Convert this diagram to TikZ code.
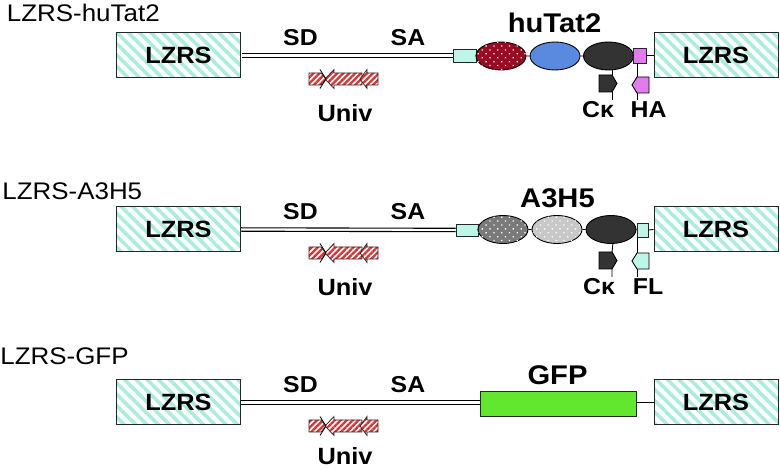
\documentclass[tikz,border=0pt]{standalone}
\usepackage{fontspec}
\usepackage{graphicx}
\setmainfont{Liberation Sans}
\usetikzlibrary{patterns.meta,shapes.geometric}
\definecolor{lz}{HTML}{A8EEDA}
\definecolor{mint}{HTML}{BDF5E6}
\definecolor{dred}{HTML}{9A0A22}
\definecolor{cblue}{HTML}{5A8AE0}
\definecolor{dk}{HTML}{333333}
\definecolor{mag}{HTML}{E27CEE}
\definecolor{gfp}{HTML}{62E62E}
\definecolor{ured}{HTML}{D83434}
\definecolor{gone}{HTML}{7A7A7A}
\definecolor{gtwo}{HTML}{C8C8C8}
\newcommand\sx[1]{\scalebox{1.08}[1]{#1}}
\newcommand\commonrow[1]{%
  \node[lzrs] (L) at (178.5,55.5) {\sx{LZRS}};
  \node[lzrs] (R) at (716,55.5) {\sx{LZRS}};
  \node[small] (sd) at (300.5,45.5) {\sx{SD}};
  \node[small] (sa) at (408,45.5) {\sx{SA}};
  \draw[ustripe] (309,73) -- (321,73) -- (326,79) -- (321,85) -- (309,85) -- cycle;
  \draw[ustripe] (325,79) -- (334,69.5) -- (334,73) -- (362,73) -- (362,85) -- (334,85) -- (334,88.5) -- cycle;
  \draw[ustripe] (360,79) -- (367,69.5) -- (367,73) -- (378,73) -- (378,85) -- (367,85) -- (367,88.5) -- cycle;
  \draw[line width=0.8pt] (320,69.5) -- (326,79) -- (320,88.5);
  \node[univ] (uv) at (345,#1) {\sx{Univ}};
}
\begin{document}
\begin{tikzpicture}[x=1pt,y=-1pt,line width=0.9pt,
  lzrs/.style={draw=black!85,line width=1pt,
    pattern={Lines[angle=-45,distance=8pt,line width=3.5pt]},pattern color=lz,
    minimum width=124pt,minimum height=45pt,inner sep=0pt,
    font=\fontsize{23.5}{28}\selectfont\bfseries},
  small/.style={anchor=base,inner sep=0pt,font=\fontsize{23}{27}\selectfont\bfseries},
  univ/.style={anchor=base,inner sep=0pt,font=\fontsize{23.5}{27}\selectfont\bfseries},
  big/.style={anchor=base,inner sep=0pt,font=\fontsize{27}{32}\selectfont\bfseries},
  title/.style={anchor=base west,inner sep=0pt,font=\fontsize{24}{28}\selectfont},
  railup/.style={draw=black,line width=1.1pt,transform canvas={yshift=1.7pt}},
  raildn/.style={draw=black,line width=1.1pt,transform canvas={yshift=-1.7pt}},
  ustripe/.style={draw=black!85,line width=0.7pt,preaction={fill=white},
    pattern={Lines[angle=45,distance=4.2pt,line width=2.3pt]},pattern color=ured},
  cbox/.style={draw=black!85,line width=0.9pt,fill=#1,inner sep=0pt},
  ell/.style={ellipse,draw=black,line width=0.9pt,fill=#1,minimum width=50pt,minimum height=28pt,inner sep=0pt},
  dots/.style={postaction={pattern={Dots[radius=0.9pt,distance=5.5pt,angle=45]},pattern color=white}}
]
\useasboundingbox[fill=white] (0,0) rectangle (780,470);

% titles
\node[title] (t1) at (6.5,21.7) {\sx{LZRS-huTat2}};
\node[title] (t2) at (2,200) {\sx{LZRS-A3H5}};
\node[title] (t3) at (0,365) {\sx{LZRS-GFP}};

% ---------- row 1 ----------
\begin{scope}[name prefix=a-]
\commonrow{122}
\node[cbox=mint,minimum width=23pt,minimum height=13pt] (cb) at (464.5,55.5) {};
\node[ell=dred,dots] (e1) at (501,56) {};
\node[ell=cblue] (e2) at (555,56) {};
\node[ell=dk] (e3) at (608.5,56) {};
\node[cbox=mag,minimum width=13pt,minimum height=15pt] (tg) at (639.5,55.5) {};
\draw[railup] (L.east) -- (cb.west);
\draw[raildn] (L.east) -- (cb.west);
\draw (cb.east) -- (e1.west) (e1.east) -- (e2.west) (e2.east) -- (e3.west) (e3.east) -- (tg.west);
\draw (tg.east) -- (R.west);
\node[big] (nm) at (554.5,33) {\sx{huTat2}};
% C kappa flag
\draw[fill=dk] (599,75) -- (612,75) -- (617,83.5) -- (612,92) -- (599,92) -- cycle;
\draw (612,69) -- (612,75) (612,92) -- (612,100);
% HA flag
\draw[fill=mag] (649,77) -- (637,77) -- (632,85) -- (637,93) -- (649,93) -- cycle;
\draw (637,63) -- (637,77) (637,93) -- (637,100);
\node[small] (ck) at (598,118) {\sx{Cκ}};
\node[small] (ha) at (648.5,118) {\sx{HA}};
\end{scope}

% ---------- row 2 ----------
\begin{scope}[yshift=-174pt,name prefix=b-]
\commonrow{122}
\node[cbox=mint,minimum width=22pt,minimum height=12pt] (cb) at (467,56) {};
\node[ell=gone,dots] (e1) at (503,55.5) {};
\node[ell=gtwo,dots] (e2) at (557,55.5) {};
\node[ell=dk] (e3) at (611,55.5) {};
\node[cbox=mint,minimum width=11pt,minimum height=14pt] (tg) at (642.5,56) {};
\draw[railup] (L.east) -- (cb.west);
\draw[raildn] (L.east) -- (cb.west);
\draw (cb.east) -- (e1.west) (e1.east) -- (e2.west) (e2.east) -- (e3.west) (e3.east) -- (tg.west);
\draw (tg.east) -- (R.west);
\node[big] (nm) at (557.5,34) {\sx{A3H5}};
\draw[fill=dk] (599,78) -- (612,78) -- (617,86.5) -- (612,95) -- (599,95) -- cycle;
\draw (613,69) -- (612,78) (612,95) -- (612,103);
\draw[fill=mint] (649,79) -- (637,79) -- (632,87) -- (637,95) -- (649,95) -- cycle;
\draw (637,63) -- (637,79) (637,95) -- (637,103);
\node[small] (ck) at (599,120.5) {\sx{Cκ}};
\node[small] (fl) at (648,120.5) {\sx{FL}};
\end{scope}

% ---------- row 3 ----------
\begin{scope}[yshift=-347pt,name prefix=c-]
\commonrow{117.5}
\node[cbox=gfp,minimum width=156pt,minimum height=25pt] (g) at (558,56.5) {};
\draw[railup] (L.east) -- (L.east -| g.west);
\draw[raildn] (L.east) -- (L.east -| g.west);
\draw (g.east |- R.west) -- (R.west);
\node[big] (nm) at (557.5,38) {\sx{GFP}};
\end{scope}
\end{tikzpicture}
\end{document}
